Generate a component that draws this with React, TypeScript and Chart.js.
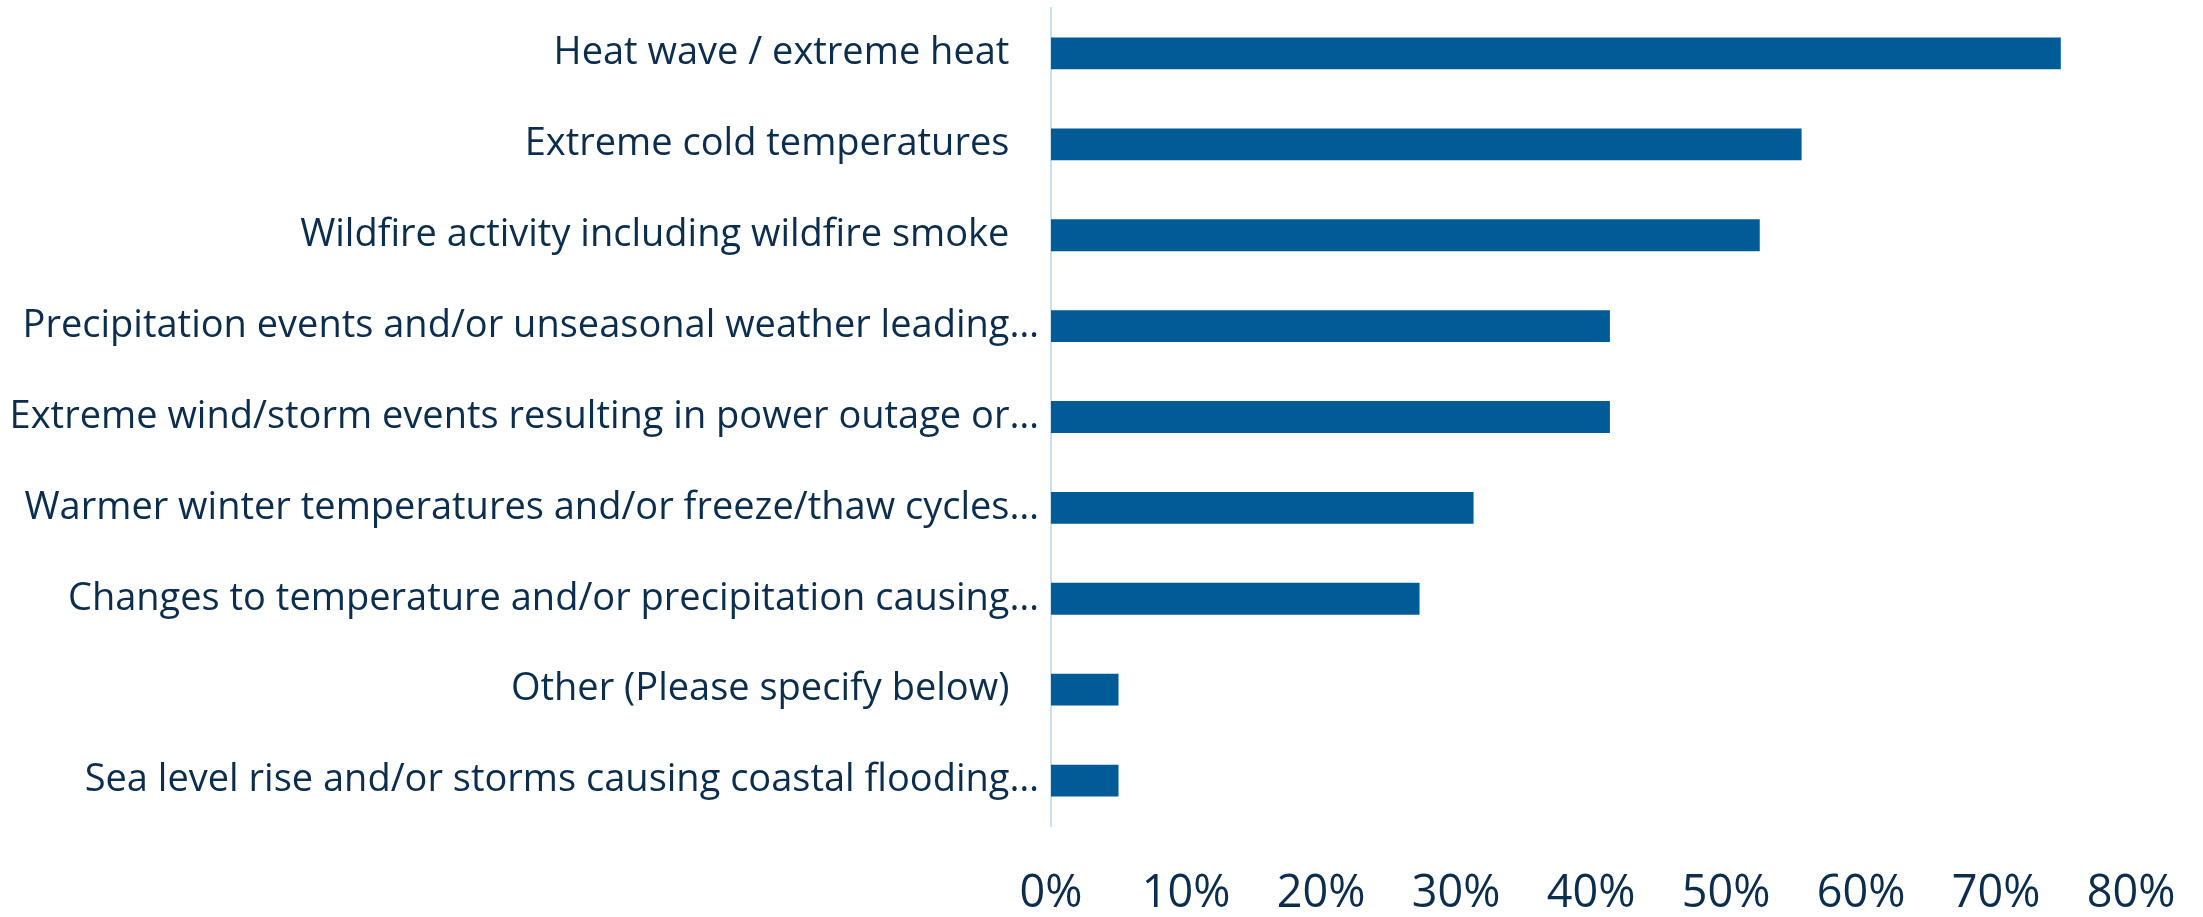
import React, { useEffect, useRef } from "react";
import { Chart, registerables } from "chart.js";

Chart.register(...registerables);

const categories: string[] = [
  "Heat wave / extreme heat",
  "Extreme cold temperatures",
  "Wildfire activity including wildfire smoke",
  "Precipitation events and/or unseasonal weather leading…",
  "Extreme wind/storm events resulting in power outage or…",
  "Warmer winter temperatures and/or freeze/thaw cycles…",
  "Changes to temperature and/or precipitation causing…",
  "Other (Please specify below)",
  "Sea level rise and/or storms causing coastal flooding…",
];

const values: number[] = [74.8, 55.6, 52.5, 41.4, 41.4, 31.3, 27.3, 5.0, 5.0];

const xTickMin = 0;
const xTickMax = 80;
const xTickStep = 10;

const BAR_COLOR = "#005B96";
const TEXT_COLOR = "#0B2D4E";
const AXIS_COLOR = "#C9E0F4";
const FONT = "'Open Sans', 'Noto Sans', sans-serif";

export default function App() {
  const ref = useRef<HTMLCanvasElement | null>(null);

  useEffect(() => {
    document.body.style.margin = "0";
    if (!ref.current) return;
    const chart = new Chart(ref.current, {
      type: "bar",
      data: {
        labels: categories,
        datasets: [
          {
            data: values,
            backgroundColor: BAR_COLOR,
            borderWidth: 0,
            barPercentage: 0.35,
            categoryPercentage: 1,
          },
        ],
      },
      options: {
        indexAxis: "y",
        animation: false,
        responsive: false,
        maintainAspectRatio: false,
        layout: { padding: { top: 8, right: 72, left: 0, bottom: 0 } },
        plugins: {
          legend: { display: false },
          tooltip: { enabled: false },
        },
        scales: {
          x: {
            min: xTickMin,
            max: xTickMax,
            grid: { display: false, drawTicks: false },
            border: { display: false },
            ticks: {
              stepSize: xTickStep,
              padding: 41,
              color: TEXT_COLOR,
              font: { family: FONT, size: 45 },
              callback: (v: any) => `${v}%`,
            },
            afterFit: (s: any) => {
              s.height = 91;
              s.paddingLeft = 0;
              s.paddingRight = 0;
            },
          },
          y: {
            grid: { display: false, drawTicks: false },
            border: { display: true, color: AXIS_COLOR, width: 2 },
            ticks: {
              padding: 12,
              color: TEXT_COLOR,
              font: { family: FONT, size: 38 },
              callback: function (this: any, v: any) {
                const l = this.getLabelForValue(v) as string;
                return l.endsWith("…") ? l : l + "\u00A0\u00A0\u00A0";
              },
            },
            afterFit: (s: any) => {
              s.width = 1051;
              s.paddingTop = 0;
              s.paddingBottom = 0;
            },
          },
        },
      },
    });
    return () => chart.destroy();
  }, []);

  return (
    <div style={{ width: 2203, height: 917, background: "#fff" }}>
      <canvas ref={ref} width={2203} height={917} style={{ display: "block" }} />
    </div>
  );
}
